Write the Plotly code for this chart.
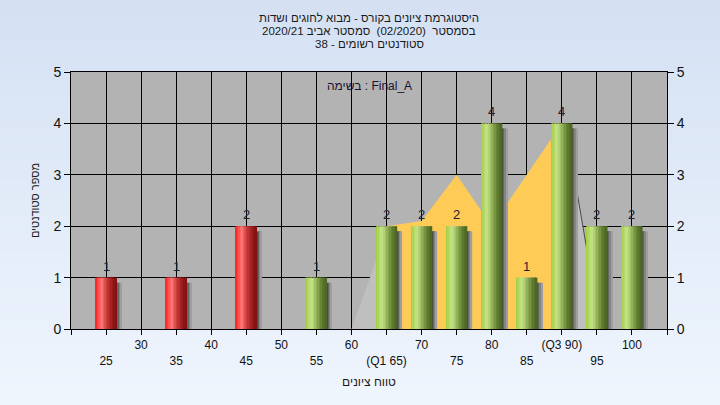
import plotly.graph_objects as go

# ---------------- data ----------------
bins = [25, 35, 45, 55, 65, 70, 75, 80, 85, 90, 95, 100]
counts = [1, 1, 2, 1, 2, 2, 2, 4, 1, 4, 2, 2]
pass_mark = 55

orange_x = [65, 65, 70, 75, 80, 85, 90, 90]
orange_y = [0, 2, 2.1, 3, 2, 3, 4, 0]

gray_x = [60, 65, 70, 75, 80, 85, 90.5, 95.5]
gray_y = [0, 1.9, 2, 2, 2, 3, 4, 0]

tick_vals = [20, 25, 30, 35, 40, 45, 50, 55, 60, 65, 70, 75, 80, 85, 90, 95, 100, 105]
tick_text = ["", "<br>25", "30", "<br>35", "40", "<br>45", "50", "<br>55", "60",
             "<br>(Q1 65)", "70", "<br>75", "80", "<br>85", "(Q3 90)", "<br>95", "100", ""]

title_lines = ["היסטוגרמת ציונים בקורס - מבוא לחוגים ושדות",
               "בסמסטר  (02/2020)  סמסטר אביב 2020/21",
               "סטודנטים רשומים - 38"]
list_label = "בשימה : Final_A"
x_title = "טווח ציונים"
y_title = "מספר סטודנטים"

FONT = "Liberation Sans, Arial, sans-serif"
W, H = 720, 405
ML, MR, MT, MB = 71, 53, 72, 76
PW, PH = W - ML - MR, H - MT - MB

# ---------------- helpers (style only) ----------------
def hex2rgb(h):
    h = h.lstrip('#')
    return [int(h[i:i + 2], 16) for i in (0, 2, 4)]

def interp(stops, t):
    for (t0, c0), (t1, c1) in zip(stops[:-1], stops[1:]):
        if t0 <= t <= t1:
            f = (t - t0) / (t1 - t0) if t1 > t0 else 0
            a, b = hex2rgb(c0), hex2rgb(c1)
            return "rgb(%d,%d,%d)" % tuple(round(a[i] + (b[i] - a[i]) * f) for i in range(3))
    return stops[-1][1]

def py2paper(py):
    return (H - MB - py) / PH

green_stops = [(0, "#9fcc3e"), (0.3, "#c6e48a"), (0.55, "#8fae55"), (0.8, "#5e7b2e"), (1, "#4b6424")]
red_stops = [(0, "#ff1e1e"), (0.3, "#ff7878"), (0.55, "#c83a3a"), (0.8, "#9a1c1c"), (1, "#7a1010")]

fig = go.Figure()

# background area polygons (main axes, drawn beneath bars)
fig.add_trace(go.Scatter(x=gray_x, y=gray_y, fill="toself", mode="lines",
                         line=dict(width=0), fillcolor="#bfbfbf", hoverinfo="skip",
                         showlegend=False))
fig.add_trace(go.Scatter(x=gray_x[-2:], y=gray_y[-2:], mode="lines",
                         line=dict(color="#4a4a4a", width=1), hoverinfo="skip",
                         showlegend=False))
fig.add_trace(go.Scatter(x=orange_x, y=orange_y, fill="toself", mode="lines",
                         line=dict(width=0), fillcolor="#fecb56", hoverinfo="skip",
                         showlegend=False))

# bar shadows
BW = 3.0
shadow_cols = ["#4a4a4a", "#666666", "#848484", "#9e9e9e"]
sw = 0.18
for i, c in enumerate(shadow_cols):
    fig.add_trace(go.Bar(x=bins, y=counts, base=-0.1,
                         width=sw, offset=BW / 2 + i * sw, marker=dict(color=c, line=dict(width=0)),
                         xaxis="x2", yaxis="y2", hoverinfo="skip", showlegend=False))

# cylinder-like bars: vertical strips with gradient
N = 14
for k in range(N):
    t = (k + 0.5) / N
    cols = [interp(green_stops if b >= pass_mark else red_stops, t) for b in bins]
    fig.add_trace(go.Bar(x=bins, y=counts, width=BW / N + 0.02, offset=-BW / 2 + k * BW / N,
                         marker=dict(color=cols, line=dict(width=0)),
                         xaxis="x2", yaxis="y2", hoverinfo="skip", showlegend=False))

# page gradient bands (cover the whole figure)
shapes = []
NB = 45
top, bot = hex2rgb("#d4e1f3"), hex2rgb("#eff5fd")
band_h = H / NB
for i in range(NB):
    f = i / (NB - 1)
    col = "rgb(%d,%d,%d)" % tuple(round(top[j] + (bot[j] - top[j]) * f) for j in range(3))
    shapes.append(dict(type="rect", xref="paper", yref="paper",
                       x0=-(ML + 5) / PW, x1=1 + (MR + 5) / PW,
                       y0=py2paper((i + 1) * band_h + 0.6), y1=py2paper(i * band_h - 0.6),
                       fillcolor=col, line=dict(width=0), layer="below"))
shapes.append(dict(type="rect", xref="x domain", yref="y domain", x0=0, x1=1, y0=0, y1=1,
                   fillcolor="#b3b3b3", line=dict(width=0), layer="below"))

annotations = []
# value labels above bars
for b, c in zip(bins, counts):
    annotations.append(dict(x=b, y=c, xref="x2", yref="y2", text=str(c), showarrow=False,
                            xanchor="center", yanchor="bottom", yshift=2,
                            font=dict(family=FONT, size=13, color="#1e2030")))
# title lines
for i, line in enumerate(title_lines):
    annotations.append(dict(text=line, xref="paper", yref="paper", x=0.5,
                            y=py2paper(18 + 13 * i),
                            xanchor="center", yanchor="middle", showarrow=False,
                            font=dict(family=FONT, size=11.5, color="#1a1a1a")))
annotations.append(dict(text=list_label, xref="paper", yref="paper", x=0.5, y=1,
                        xanchor="center", yanchor="top", yshift=-5, showarrow=False,
                        font=dict(family=FONT, size=12, color="#1a1030")))

axis_font = dict(family=FONT, size=12, color="#111111")

fig.update_layout(
    width=W, height=H,
    template="none",
    margin=dict(l=ML, r=MR, t=MT, b=MB),
    paper_bgcolor="#e2ebf8",
    plot_bgcolor="#b3b3b3",
    barmode="overlay",
    showlegend=False,
    shapes=shapes,
    font=dict(family=FONT, size=12, color="#111111"),
    xaxis=dict(range=[20, 105], tickmode="array", tickvals=tick_vals, ticktext=tick_text,
               ticks="outside", ticklen=5, tickcolor="black", tickfont=axis_font,
               showgrid=True, gridcolor="black", gridwidth=1, zeroline=False,
               showline=True, linecolor="black", mirror=True,
               title=dict(text=x_title, font=dict(family=FONT, size=12, color="#1a1a1a"), standoff=10)),
    yaxis=dict(range=[0, 5], tickmode="linear", dtick=1, tick0=0,
               ticks="outside", ticklen=6, tickcolor="black",
               tickfont=dict(family=FONT, size=14, color="#111111"),
               showgrid=True, gridcolor="black", gridwidth=1, zeroline=False,
               showline=True, linecolor="black", mirror=True,
               title=dict(text=y_title, font=dict(family=FONT, size=11, color="#1a1a1a"), standoff=11)),
    xaxis2=dict(overlaying="x", anchor="y2", range=[20, 105], visible=False),
    yaxis2=dict(overlaying="y", side="right", anchor="x2", range=[0, 5], tickmode="linear",
                dtick=1, tick0=0, ticks="outside", ticklen=6, tickcolor="black",
                tickfont=dict(family=FONT, size=14, color="#111111"),
                showgrid=False, zeroline=False, showline=True, linecolor="black"),
    annotations=annotations,
)

fig.write_html("out.html", config={"displayModeBar": False},
               post_script="document.body.style.margin='0px';")
